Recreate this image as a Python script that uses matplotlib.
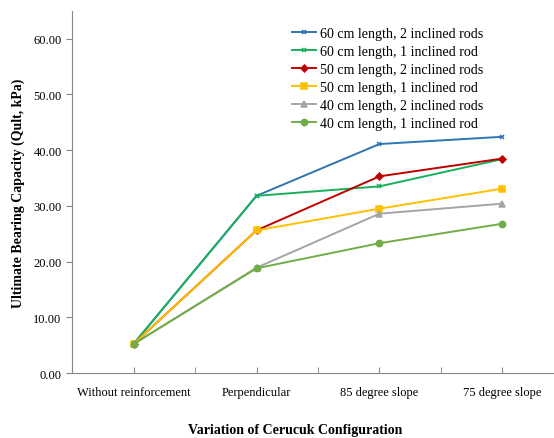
import numpy as np
import matplotlib.pyplot as plt

plt.rcParams['font.family'] = ['Liberation Serif', 'DejaVu Serif']

categories = ["Without reinforcement", "Perpendicular", "85 degree slope", "75 degree slope"]

l60_2rods = [5.2, 31.8, 41.1, 42.4]
l60_1rod = [5.2, 31.8, 33.5, 38.4]
l50_2rods = [5.2, 25.6, 35.3, 38.5]
l50_1rod = [5.2, 25.6, 29.5, 33.1]
l40_2rods = [5.2, 18.9, 28.6, 30.4]
l40_1rod = [5.2, 18.8, 23.3, 26.8]

series = [
    ("60 cm length, 2 inclined rods", l60_2rods, "#2E75B6", "x"),
    ("60 cm length, 1 inclined rod", l60_1rod, "#1BAF5C", "x"),
    ("50 cm length, 2 inclined rods", l50_2rods, "#C00000", "D"),
    ("50 cm length, 1 inclined rod", l50_1rod, "#FFC000", "s"),
    ("40 cm length, 2 inclined rods", l40_2rods, "#A5A5A5", "^"),
    ("40 cm length, 1 inclined rod", l40_1rod, "#70AD47", "o"),
]

fig = plt.figure(figsize=(5.54, 4.39), dpi=100)
# axes run a bit past the right edge of the figure, like the original
ax = fig.add_axes([0.130, 0.148, 0.888, 0.825])

x = np.arange(len(categories))
for label, vals, color, marker in series:
    ms = 3.5 if marker in ("D", "x") else 4.5
    ax.plot(x, vals, color=color, marker=marker, markersize=ms, linewidth=1.4,
            markeredgewidth=1.1, label=label)

ax.set_xlim(-0.5, 3.5)
ax.set_ylim(0, 65)
ax.set_yticks(np.arange(0, 61, 10))
ax.set_yticklabels([f"{v:.2f}" for v in np.arange(0, 61, 10)])
ax.set_xticks(x)
ax.set_xticks(x[:-1] + 0.5, minor=True)
ax.set_xticklabels(categories)
ax.tick_params(axis="x", which="both", direction="in", length=4, color="#888888",
               pad=9, labelsize=9)
ax.tick_params(axis="y", length=4, color="#888888", labelsize=9)

for s in ("top", "right"):
    ax.spines[s].set_visible(False)
for s in ("left", "bottom"):
    ax.spines[s].set_color("#888888")

ax.set_ylabel("Ultimate Bearing Capacity (Qult, kPa)", fontweight="bold", fontsize=10, labelpad=6)
ax.set_xlabel("Variation of Cerucuk Configuration", fontweight="bold", fontsize=10, labelpad=18)
ax.xaxis.label.set_x(0.453)

ax.legend(loc="upper left", bbox_to_anchor=(0.4305 * 0.868 / 0.888, 0.990), frameon=False,
          fontsize=10.1, handlelength=1.75, labelspacing=0.36, handletextpad=0.3)

fig.savefig("out.png", dpi=100)
